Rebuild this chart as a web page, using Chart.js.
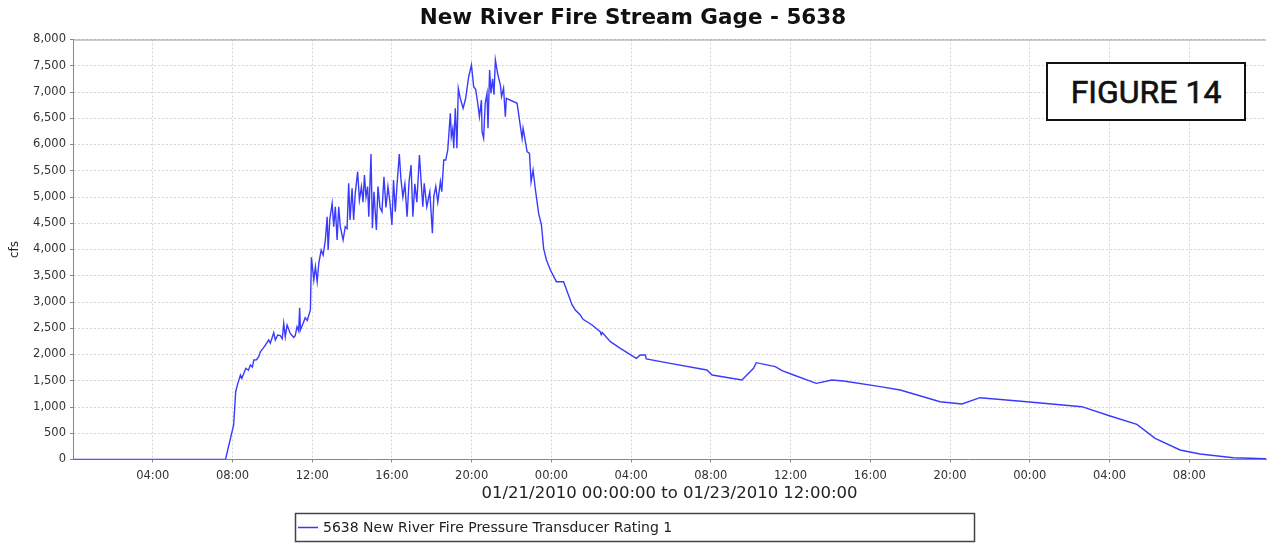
<!DOCTYPE html>
<html lang="en">
<head>
  <meta charset="UTF-8" />
  <title>New River Fire Stream Gage - 5638</title>
  <script src="https://cdn.jsdelivr.net/npm/chart.js"></script>
  <style>
    html, body { margin: 0; padding: 0; background: #fff; }
    .wrap { position: relative; width: 1268px; height: 544px; }
    #gage { display: block; }
    .figure-tag {
      position: absolute;
      left: 1046px;
      top: 62px;
      width: 196px;
      height: 55px;
      border: 2px solid #111;
      background: #fff;
      font-family: Roboto, 'Open Sans', sans-serif;
      font-weight: 400;
      font-size: 32px;
      line-height: 56px;
      text-align: center;
      color: #111;
      -webkit-text-stroke: 0.6px #111;
    }
  </style>
</head>
<body>
  <div class="wrap">
    <canvas id="gage" width="1268" height="544"></canvas>
    <div class="figure-tag">FIGURE 14</div>
  </div>

  <script>
    // hours since 01/21/2010 00:00
    const hours = [
      0, 7.65, 8.06, 8.16, 8.27, 8.4, 8.47, 8.67, 8.8, 8.9, 9.0, 9.07, 9.2, 9.32, 9.4, 9.6, 9.82, 9.9,
      10.07, 10.15, 10.27, 10.4, 10.5, 10.57, 10.65, 10.74, 10.9, 11.07, 11.15, 11.24, 11.32, 11.37, 11.41,
      11.55, 11.65, 11.75, 11.91, 11.96, 12.08, 12.16, 12.25, 12.33, 12.45, 12.55, 12.66, 12.75, 12.8, 12.88,
      13.0, 13.08, 13.16, 13.25, 13.33, 13.41, 13.55, 13.66, 13.75, 13.83, 13.9, 14.0, 14.08, 14.16, 14.28,
      14.37, 14.47, 14.55, 14.62, 14.7, 14.78, 14.84, 14.95, 15.02, 15.1, 15.22, 15.3, 15.4, 15.5, 15.6,
      15.7, 15.8, 15.9, 16.0, 16.08, 16.17, 16.25, 16.37, 16.45, 16.55, 16.65, 16.76, 16.86, 16.96, 17.05,
      17.15, 17.25, 17.38, 17.47, 17.55, 17.62, 17.75, 17.9, 18.03, 18.1, 18.2, 18.3, 18.43, 18.5, 18.6,
      18.7, 18.8, 18.93, 18.98, 19.05, 19.1, 19.18, 19.26, 19.33, 19.43, 19.57, 19.7, 19.85, 19.99, 20.1,
      20.2, 20.3, 20.39, 20.49, 20.52, 20.6, 20.68, 20.77, 20.82, 20.9, 20.97, 21.05, 21.12, 21.19, 21.3,
      21.44, 21.5, 21.6, 21.69, 21.74, 22.28, 22.53, 22.58, 22.78, 22.9, 22.98, 23.08, 23.2, 23.36, 23.5,
      23.61, 23.75, 23.95, 24.25, 24.61, 25.04, 25.2, 25.45, 25.59, 26.04, 26.45, 26.5, 26.55, 26.96, 27.46,
      28.26, 28.46, 28.71, 28.76, 29.96, 31.8, 32.06, 33.56, 34.14, 34.28, 35.23, 35.57, 36.15, 37.29, 38.07,
      38.66, 40.5, 41.5, 43.5, 44.6, 45.5, 47.85, 50.61, 52.03, 53.37, 54.29, 55.54, 56.54, 58.21, 59.85
    ];

    const flow = [
      0, 0, 657, 1291, 1451, 1610, 1546, 1737, 1700, 1800, 1760, 1895, 1900, 1958, 2053, 2150, 2276, 2215,
      2415, 2276, 2371, 2360, 2300, 2594, 2339, 2562, 2400, 2327, 2360, 2530, 2450, 2892, 2467,
      2600, 2700, 2650, 2848, 3851, 3419, 3673, 3387, 3737, 3990, 3895, 4181, 4625, 3990, 4562,
      4880, 4435, 4815, 4181, 4815, 4435, 4181, 4435, 4400, 5261, 4562, 5166, 4562, 5070, 5482,
      4943, 5197, 4900, 5419, 5000, 5200, 4625, 5819, 4404, 5100, 4371, 5200, 4800, 4720, 5387,
      4800, 5197, 4900, 4467, 5324, 4720, 5200, 5819, 5350, 5000, 5250, 4625, 5300, 5610, 4625,
      5250, 4900, 5800, 5261, 4815, 5261, 4815, 5100, 4308, 5006, 5200, 4900, 5292, 5100, 5705,
      5705, 5895, 6594, 6149, 6300, 5927, 6689, 5927, 7070, 6880, 6689, 6880, 7291, 7514, 7101,
      7050, 6800, 6530, 6848, 6244, 6118, 6785, 6975, 6308, 7419, 6975, 7250, 6950, 7610, 7356,
      7133, 6911, 7070, 6530, 6880, 6785, 6118, 6308, 5863, 5832, 5292, 5514, 5133, 4689, 4467,
      4023, 3800, 3610, 3387, 3387, 2943, 2848, 2752, 2670, 2562, 2434, 2380, 2420, 2244, 2118,
      1927, 1990, 1990, 1914, 1832, 1705, 1610, 1514, 1737, 1844, 1768, 1692, 1610, 1451, 1514,
      1495, 1387, 1324, 1101, 1057, 1177, 1101, 1006, 829, 670, 404, 181, 105, 32, 15
    ];

    const xTickHours = [4, 8, 12, 16, 20, 24, 28, 32, 36, 40, 44, 48, 52, 56];
    const seriesLabel = '5638 New River Fire Pressure Transducer Rating 1';

    const points = hours.map((h, i) => ({ x: h, y: flow[i] }));

    // plot outline on top + the boxed legend under the axis title
    const framePlugin = {
      id: 'frame',
      afterDraw(chart) {
        const { ctx, chartArea } = chart;
        ctx.save();
        ctx.strokeStyle = '#9a9a9a';
        ctx.lineWidth = 1;
        ctx.beginPath();
        ctx.moveTo(chartArea.left, chartArea.top + 0.5);
        ctx.lineTo(chartArea.right, chartArea.top + 0.5);
        ctx.stroke();

        // legend
        ctx.strokeStyle = '#444';
        ctx.lineWidth = 1.5;
        ctx.strokeRect(295.5, 513.5, 679, 28);
        ctx.strokeStyle = '#3a3aff';
        ctx.lineWidth = 1.5;
        ctx.beginPath();
        ctx.moveTo(298, 527.5);
        ctx.lineTo(318, 527.5);
        ctx.stroke();
        ctx.fillStyle = '#222';
        ctx.font = '14px "DejaVu Sans", sans-serif';
        ctx.textBaseline = 'middle';
        ctx.fillText(seriesLabel, 323, 528);
        ctx.restore();
      }
    };

    const hh = v => String(v % 24).padStart(2, '0') + ':00';

    new Chart(document.getElementById('gage'), {
      type: 'line',
      data: {
        datasets: [{
          label: seriesLabel,
          data: points,
          borderColor: '#3a3aff',
          borderWidth: 1.4,
          pointRadius: 0,
          tension: 0,
          fill: false
        }]
      },
      options: {
        responsive: false,
        animation: false,
        parsing: false,
        layout: { padding: { left: 0, right: 2, top: 0, bottom: 34.5 } },
        plugins: {
          legend: { display: false },
          tooltip: { enabled: false },
          title: {
            display: true,
            text: 'New River Fire Stream Gage - 5638',
            color: '#111',
            font: { family: 'DejaVu Sans', size: 21.5, weight: 'bold' },
            padding: { top: 5.6, bottom: 8.1 }
          }
        },
        scales: {
          x: {
            type: 'linear',
            min: 0,
            max: 59.85,
            afterBuildTicks: s => { s.ticks = xTickHours.map(v => ({ value: v })); },
            afterFit: s => { s.height = 50; },
            ticks: {
              autoSkip: false,
              maxRotation: 0,
              padding: 7,
              color: '#333',
              font: { family: 'DejaVu Sans', size: 11.5 },
              callback: v => hh(v)
            },
            grid: { color: '#d6d6d6', tickColor: '#888', tickLength: 3, lineWidth: 1 },
            border: { color: '#888', width: 1, dash: [2, 2] },
            title: {
              display: true,
              text: '01/21/2010 00:00:00 to 01/23/2010 12:00:00',
              color: '#222',
              font: { family: 'DejaVu Sans', size: 16.5 },
              padding: { top: 0, bottom: 6 }
            }
          },
          y: {
            min: 0,
            max: 8000,
            afterFit: s => { s.width = 73; },
            ticks: {
              stepSize: 500,
              padding: 4,
              color: '#333',
              font: { family: 'DejaVu Sans', size: 11.5 },
              callback: v => v.toLocaleString('en-US')
            },
            grid: { color: '#d6d6d6', tickColor: '#888', tickLength: 3, lineWidth: 1 },
            border: { color: '#888', width: 1, dash: [2, 2] },
            title: {
              display: true,
              text: 'cfs',
              color: '#222',
              font: { family: 'DejaVu Sans', size: 12 },
              padding: { top: 8, bottom: 0 }
            }
          }
        }
      },
      plugins: [framePlugin]
    });
  </script>
</body>
</html>
